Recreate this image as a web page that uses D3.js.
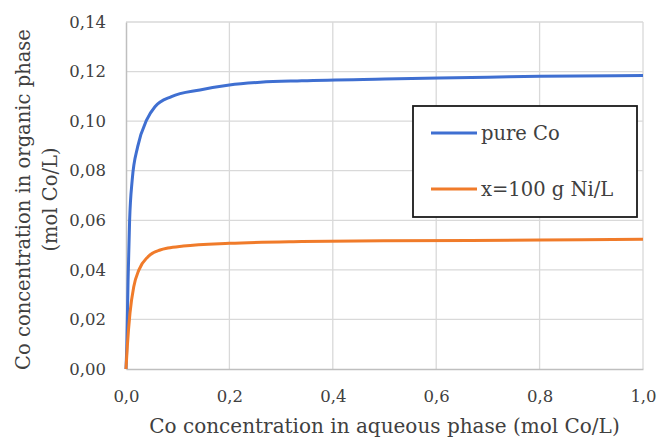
<html lang="en">
  <head>
    <meta charset="UTF-8" />
    <title>Co extraction isotherm</title>
    <script src="https://d3js.org/d3.v7.min.js"></script>
  </head>
  <style>
    body {
      margin: 0px;
      overflow: hidden;
      background: white;
    }
    text {
      font-family: "DejaVu Serif", serif;
      fill: #404040;
    }
  </style>
  <body>
    <svg width="658" height="441"></svg>
  </body>
  <footer>
    <script>
      // aqueous Co (mol/L) vs organic Co (mol/L)
      var pureCoX = [0, 0.0015, 0.004, 0.007, 0.012, 0.0226, 0.04, 0.056, 0.088, 0.143, 0.2, 0.26, 0.34, 0.5, 0.7, 0.8, 1.0];
      var pureCoY = [0, 0.009, 0.036, 0.06, 0.0763, 0.0897, 0.1005, 0.1058, 0.1099, 0.1126, 0.1146, 0.1157, 0.1163, 0.117, 0.1177, 0.1181, 0.1184];
      var niX = [0, 0.0025, 0.0077, 0.015, 0.025, 0.0426, 0.066, 0.081, 0.111, 0.2, 0.34, 0.5, 0.8, 1.0];
      var niY = [0, 0.009, 0.0226, 0.0332, 0.04, 0.0453, 0.048, 0.0488, 0.0496, 0.0507, 0.0514, 0.0517, 0.052, 0.0523];

      var seriesNames = ["pure Co", "x=100 g Ni/L"];
      var seriesColors = ["#3f6fd1", "#f07b2a"];
      var xTicks = [0, 0.2, 0.4, 0.6, 0.8, 1.0];
      var yTicks = [0, 0.02, 0.04, 0.06, 0.08, 0.1, 0.12, 0.14];

      var svg = d3.select("svg");
      var margin = { left: 126, top: 22, right: 15, bottom: 72 };
      var width = 658;
      var height = 441;

      var xScale = d3.scaleLinear().domain([0, 1]).range([margin.left, width - margin.right]);
      var yScale = d3.scaleLinear().domain([0, 0.14]).range([height - margin.bottom, margin.top]);

      var fmt = function (d, n) {
        return d.toFixed(n).replace(".", ",");
      };

      // gridlines
      svg.append("g")
        .selectAll("line")
        .data(yTicks.slice(1))
        .enter()
        .append("line")
        .attr("x1", xScale(0))
        .attr("x2", xScale(1))
        .attr("y1", function (d) { return yScale(d); })
        .attr("y2", function (d) { return yScale(d); })
        .attr("stroke", "#d9d9d9")
        .attr("stroke-width", 1.3);

      svg.append("g")
        .selectAll("line")
        .data(xTicks.slice(1))
        .enter()
        .append("line")
        .attr("x1", function (d) { return xScale(d); })
        .attr("x2", function (d) { return xScale(d); })
        .attr("y1", yScale(0))
        .attr("y2", yScale(0.14))
        .attr("stroke", "#d9d9d9")
        .attr("stroke-width", 1.3);

      // axes
      var xAxis = svg.append("g")
        .attr("transform", `translate(0, ${yScale(0)})`)
        .call(d3.axisBottom(xScale).tickValues(xTicks).tickSize(0).tickPadding(21)
          .tickFormat(function (d) { return fmt(d, 1); }));
      var yAxis = svg.append("g")
        .attr("transform", `translate(${xScale(0)}, 0)`)
        .call(d3.axisLeft(yScale).tickValues(yTicks).tickSize(0).tickPadding(20)
          .tickFormat(function (d) { return fmt(d, 2); }));
      [xAxis, yAxis].forEach(function (a) {
        a.select(".domain").attr("stroke", "#bfbfbf").attr("stroke-width", 1.5);
        a.selectAll("text").attr("font-size", 16.5).attr("font-family", "DejaVu Serif").attr("fill", "#404040");
      });

      // curves
      var line = d3.line()
        .x(function (d) { return xScale(d[0]); })
        .y(function (d) { return yScale(d[1]); })
        .curve(d3.curveMonotoneX);

      var series = [d3.zip(pureCoX, pureCoY), d3.zip(niX, niY)];
      svg.append("g")
        .selectAll("path")
        .data(series)
        .enter()
        .append("path")
        .attr("d", line)
        .attr("fill", "none")
        .attr("stroke", function (d, i) { return seriesColors[i]; })
        .attr("stroke-width", 3);

      // legend
      var legend = svg.append("g").attr("transform", "translate(413, 106)");
      legend.append("rect")
        .attr("width", 224)
        .attr("height", 111)
        .attr("fill", "white")
        .attr("stroke", "#1a1a1a")
        .attr("stroke-width", 1.8);
      var items = legend.selectAll("g")
        .data(seriesNames)
        .enter()
        .append("g")
        .attr("transform", function (d, i) { return `translate(18, ${27 + i * 56})`; });
      items.append("line")
        .attr("x1", 0)
        .attr("x2", 46)
        .attr("stroke", function (d, i) { return seriesColors[i]; })
        .attr("stroke-width", 3);
      items.append("text")
        .attr("x", 50)
        .attr("dy", "0.35em")
        .attr("font-size", 19.5)
        .text(function (d) { return d; });

      // axis titles
      svg.append("text")
        .attr("x", (xScale(0) + xScale(1)) / 2)
        .attr("y", 433)
        .attr("text-anchor", "middle")
        .attr("font-size", 20)
        .text("Co concentration in aqueous phase (mol Co/L)");

      var yTitle = svg.append("text")
        .attr("transform", `translate(0, ${(yScale(0) + yScale(0.14)) / 2 + 4}) rotate(-90)`)
        .attr("text-anchor", "middle")
        .attr("font-size", 19.5);
      yTitle.append("tspan").attr("x", 0).attr("y", 30).text("Co concentration in organic phase");
      yTitle.append("tspan").attr("x", 0).attr("y", 57).text("(mol Co/L)");
    </script>
  </footer>
</html>
